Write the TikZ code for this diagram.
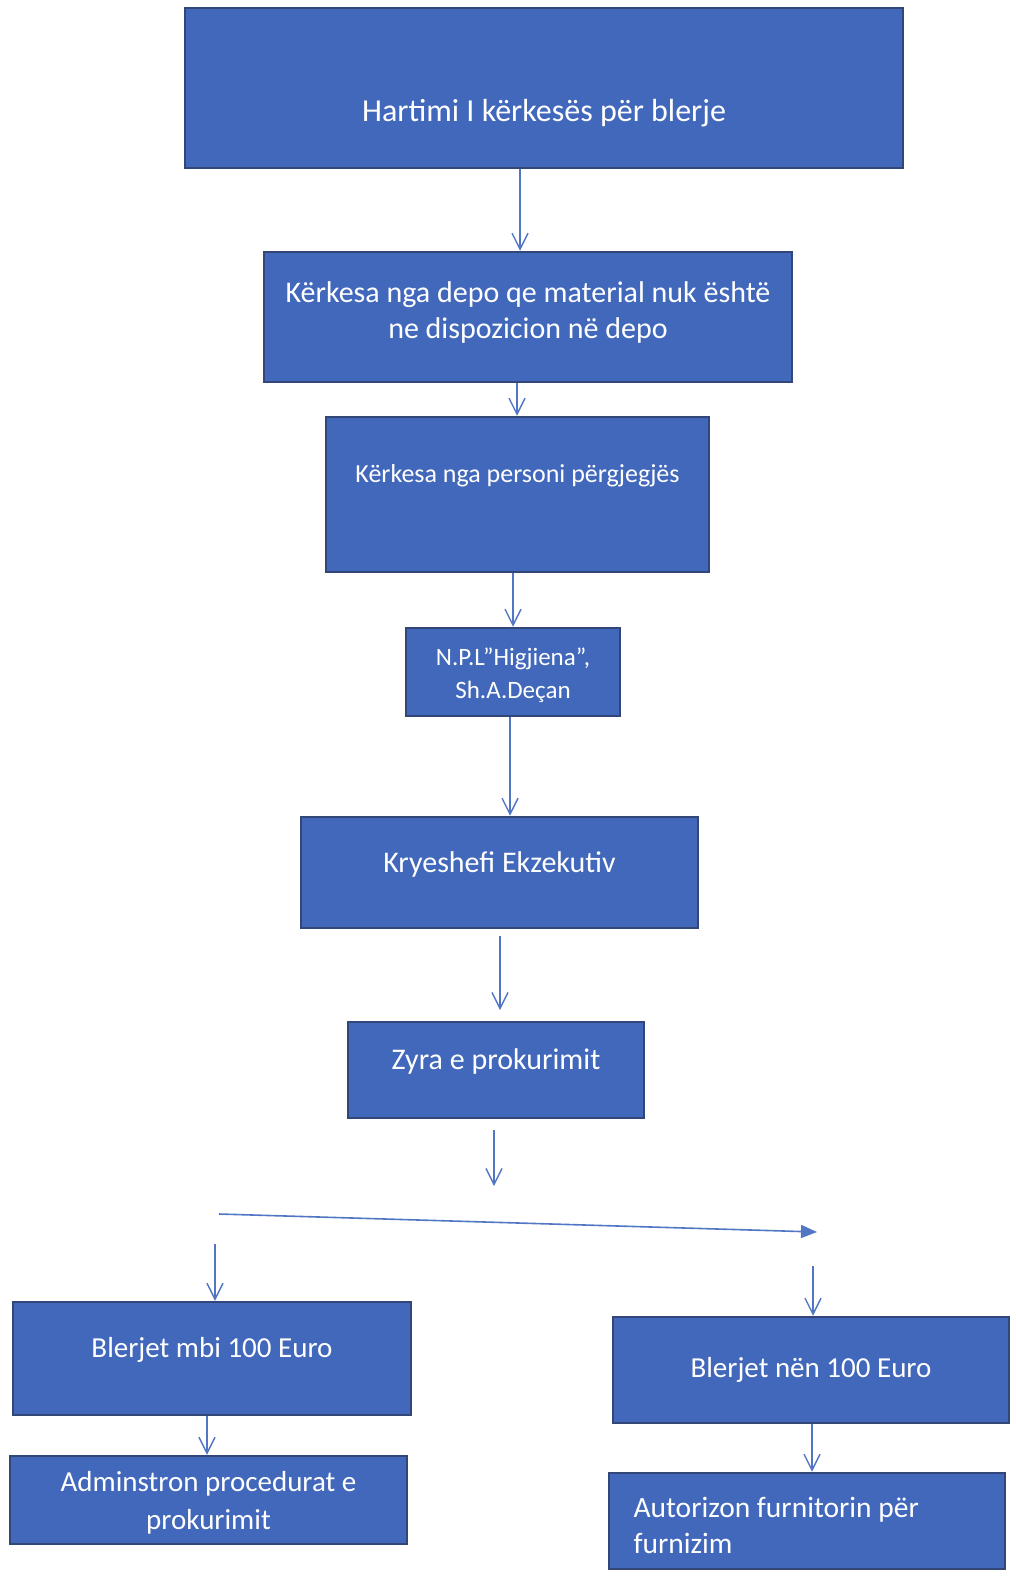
\documentclass[tikz,border=0pt]{standalone}
\usepackage{fontspec}
\setmainfont{Carlito}
\usetikzlibrary{arrows.meta}
\definecolor{boxfill}{RGB}{66,104,188}
\definecolor{boxedge}{RGB}{50,70,120}
\definecolor{arrcol}{RGB}{80,118,196}
\tikzset{
  box/.style={draw=boxedge, line width=2.5pt, fill=boxfill, inner sep=0pt},
  lbl/.style={text=white, align=center, font=\fontsize{30}{36}\selectfont},
  arr/.style={draw=arrcol, line width=1.4pt, -{Straight Barb[length=16pt,width=16pt,line width=1.4pt]}},
  harr/.style={draw=arrcol, line width=1.6pt, -{Triangle[length=16pt,width=13pt]}}
}
\begin{document}
\begin{tikzpicture}[x=1pt,y=-1pt]
\useasboundingbox (0,0) rectangle (1016,1582);
% boxes
\node[box, minimum width=718pt, minimum height=160pt] (b1) at (544,88) {};
\node[lbl, font=\fontsize{32}{36}\selectfont] (t1) at (544,113) {Hartimi I kërkesës për blerje};
\node[box, minimum width=528pt, minimum height=130pt] (b2) at (528,317) {};
\node[lbl, font=\fontsize{30}{36}\selectfont] (t2) at (528,312) {Kërkesa nga depo qe material nuk është\\ne dispozicion në depo};
\node[box, minimum width=383pt, minimum height=155pt] (b3) at (517.5,494.5) {};
\node[lbl, font=\fontsize{26}{30}\selectfont] (t3) at (517.5,476) {Kërkesa nga personi përgjegjës};
\node[box, minimum width=214pt, minimum height=88pt] (b4) at (513,672) {};
\node[lbl, font=\fontsize{25}{33}\selectfont] (t4) at (513,675) {N.P.L”Higjiena”,\\Sh.A.Deçan};
\node[box, minimum width=397pt, minimum height=111pt] (b5) at (499.5,872.5) {};
\node[lbl] (t5) at (499.5,864) {Kryeshefi Ekzekutiv};
\node[box, minimum width=296pt, minimum height=96pt] (b6) at (496,1070) {};
\node[lbl] (t6) at (496,1061) {Zyra e prokurimit};
\node[box, minimum width=398pt, minimum height=113pt] (l1) at (212,1358.5) {};
\node[lbl, font=\fontsize{29}{36}\selectfont] (tl1) at (212,1350) {Blerjet mbi 100 Euro};
\node[box, minimum width=397pt, minimum height=88pt] (l2) at (208.5,1500) {};
\node[lbl, font=\fontsize{29}{38}\selectfont] (tl2) at (208.5,1503) {Adminstron procedurat e\\prokurimit};
\node[box, minimum width=396pt, minimum height=106pt] (r1) at (811,1370) {};
\node[lbl, font=\fontsize{29}{36}\selectfont] (tr1) at (811,1370) {Blerjet nën 100 Euro};
\node[box, minimum width=396pt, minimum height=96pt] (r2) at (807,1521) {};
\node[lbl, font=\fontsize{29.5}{36}\selectfont, align=left, anchor=west] (tr2) at (630,1525) {Autorizon furnitorin për\\furnizim};
% arrow positions
\coordinate (x1) at (520,0);
\coordinate (x2) at (517,0);
\coordinate (x3) at (513,0);
\coordinate (x4) at (510,0);
\coordinate (xl2) at (207,0);
\coordinate (xr2) at (812,0);
\coordinate (a5s) at (500,936);
\coordinate (a5e) at (500,1010);
\coordinate (a6s) at (494,1130);
\coordinate (a6e) at (494,1186);
\coordinate (hs) at (219,1214);
\coordinate (he) at (817,1232);
\coordinate (dls) at (215,1244);
\coordinate (drs) at (813,1266);
% connectors
\draw[arr] (b1.south -| x1) -- (b2.north -| x1);
\draw[arr] (b2.south -| x2) -- (b3.north -| x2);
\draw[arr] (b3.south -| x3) -- (b4.north -| x3);
\draw[arr] (b4.south -| x4) -- (b5.north -| x4);
\draw[arr] (a5s) -- (a5e);
\draw[arr] (a6s) -- (a6e);
\draw[harr] (hs) -- (he);
\draw[arr] (dls) -- (l1.north -| dls);
\draw[arr] (drs) -- (r1.north -| drs);
\draw[arr] (l1.south -| xl2) -- (l2.north -| xl2);
\draw[arr] (r1.south -| xr2) -- (r2.north -| xr2);
\end{tikzpicture}
\end{document}
